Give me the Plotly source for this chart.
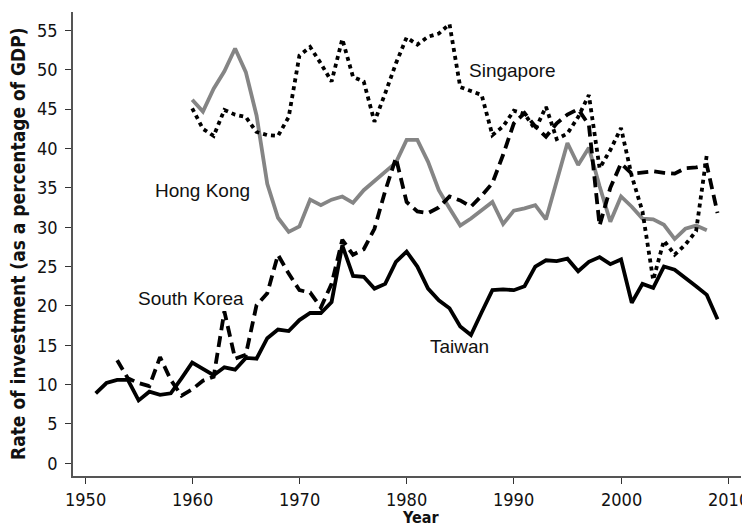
import plotly.graph_objects as go

taiwan_years = list(range(1951, 2010))
taiwan = [8.9, 10.2, 10.6, 10.6, 8.0, 9.1, 8.7, 8.9, 10.8, 12.8,
          12.0, 11.2, 12.2, 11.9, 13.4, 13.3, 15.9, 17.0, 16.8, 18.2,
          19.1, 19.1, 20.5, 27.7, 23.8, 23.7, 22.2, 22.8, 25.6, 26.9,
          25.0, 22.2, 20.7, 19.7, 17.4, 16.3, 19.2, 22.0, 22.1, 22.0,
          22.5, 25.0, 25.8, 25.7, 26.0, 24.4, 25.6, 26.2, 25.3, 25.9,
          20.4, 22.8, 22.3, 25.0, 24.6, 23.6, 22.5, 21.4, 18.3]

korea_years = list(range(1953, 2010))
korea = [13.1, 10.8, 10.2, 9.8, 13.5, 10.6, 8.6, 9.4, 10.5, 11.0,
         19.3, 13.3, 13.8, 20.1, 21.6, 26.5, 24.1, 22.0, 21.7, 19.8,
         22.8, 28.4, 26.5, 27.2, 29.8, 34.6, 38.8, 33.2, 32.0, 31.8,
         32.5, 33.9, 33.4, 32.6, 34.0, 35.6, 39.2, 43.2, 44.5, 42.8,
         41.5, 43.2, 44.3, 45.0, 43.0, 30.2, 35.0, 38.1, 36.8, 37.0,
         37.1, 36.9, 36.8, 37.5, 37.6, 37.9, 31.8]

singapore_years = list(range(1960, 2009))
singapore = [45.1, 42.5, 41.6, 44.9, 44.3, 44.0, 42.1, 41.7, 41.6, 44.0,
             51.8, 52.9, 50.8, 48.5, 53.9, 49.1, 48.5, 43.4, 47.0, 50.8,
             54.1, 53.2, 54.2, 54.6, 55.8, 47.8, 47.3, 46.8, 41.7, 42.8,
             44.8, 44.4, 42.4, 45.3, 41.2, 41.9, 44.0, 46.8, 37.5, 39.8,
             42.6, 36.5, 32.0, 23.3, 28.3, 26.5, 27.8, 29.5, 39.2]

hongkong_years = list(range(1960, 2009))
hongkong = [46.2, 44.7, 47.6, 49.8, 52.7, 49.7, 44.2, 35.5, 31.2, 29.4,
            30.1, 33.5, 32.8, 33.5, 33.9, 33.1, 34.7, 35.9, 37.1, 38.2,
            41.1, 41.1, 38.3, 34.7, 32.4, 30.2, 31.1, 32.2, 33.2, 30.4,
            32.1, 32.4, 32.8, 31.0, 35.8, 40.7, 37.9, 40.1, 35.2, 30.7,
            33.9, 32.6, 31.1, 31.0, 30.3, 28.5, 29.8, 30.2, 29.6]

x_ticks = [1950, 1960, 1970, 1980, 1990, 2000, 2010]
y_ticks = [0, 5, 10, 15, 20, 25, 30, 35, 40, 45, 50, 55]

labels = ["Singapore", "Hong Kong", "South Korea", "Taiwan"]
label_x = [1989.9, 1961.0, 1959.9, 1984.9]
label_y = [49.9, 34.7, 21.0, 14.9]

LW = 3.8
fig = go.Figure()
fig.add_trace(go.Scatter(x=hongkong_years, y=hongkong, mode="lines",
                         line=dict(color="#858585", width=LW), name="Hong Kong"))
fig.add_trace(go.Scatter(x=singapore_years, y=singapore, mode="lines",
                         line=dict(color="black", width=LW, dash="4px,4px"), name="Singapore"))
fig.add_trace(go.Scatter(x=korea_years, y=korea, mode="lines",
                         line=dict(color="black", width=LW, dash="11px,6px"), name="South Korea"))
fig.add_trace(go.Scatter(x=taiwan_years, y=taiwan, mode="lines",
                         line=dict(color="black", width=LW), name="Taiwan"))

for t, lx, ly in zip(labels, label_x, label_y):
    fig.add_annotation(x=lx, y=ly, text=t, showarrow=False,
                       font=dict(family="Liberation Sans, Arial, sans-serif", size=19, color="#111"),
                       xanchor="center", yanchor="middle")

narrow = "Liberation Sans Narrow, Arial Narrow, DejaVu Sans Condensed, Liberation Sans, sans-serif"
tick_font = dict(family=narrow, size=18, color="#111")

PW, PH = 668, 464  # plot area size in px
for xv in x_ticks:
    fig.add_annotation(x=xv, y=-(499 - 476) / PH, xref="x", yref="paper",
                       text=str(xv), showarrow=False, xanchor="center", yanchor="middle",
                       font=tick_font)

fig.add_annotation(x=(18 - 73) / PW, y=0.5, xref="paper", yref="paper",
                   text="<b>Rate of investment (as a percentage of GDP)</b>",
                   textangle=-90, showarrow=False, xanchor="center", yanchor="middle",
                   font=dict(family=narrow, size=19, color="#111"))
fig.add_annotation(x=(420 - 73) / PW, y=-(517 - 476) / PH, xref="paper", yref="paper",
                   text="<b>Year</b>", showarrow=False, xanchor="center", yanchor="middle",
                   font=dict(family=narrow, size=16, color="#111"))

# page body has an 8px margin; size the figure so it fills the 750x526 window exactly
fig.update_layout(
    width=742, height=518,
    margin=dict(l=65, r=9, t=4, b=50),
    paper_bgcolor="white", plot_bgcolor="white",
    showlegend=False,
    xaxis=dict(range=[1948.88, 2011.19], tickvals=x_ticks, showgrid=False, zeroline=False,
               showline=True, linecolor="#555", linewidth=1.5, automargin=False,
               ticks="outside", ticklen=6, tickwidth=1.2, tickcolor="#333",
               showticklabels=False),
    yaxis=dict(range=[-1.61, 57.34], tickvals=y_ticks, showgrid=False, zeroline=False,
               showline=True, linecolor="#555", linewidth=1.5, automargin=False,
               ticks="outside", ticklen=6, tickwidth=1.2, tickcolor="#333",
               ticklabelstandoff=4, tickfont=tick_font),
)

fig.write_html("out.html")
